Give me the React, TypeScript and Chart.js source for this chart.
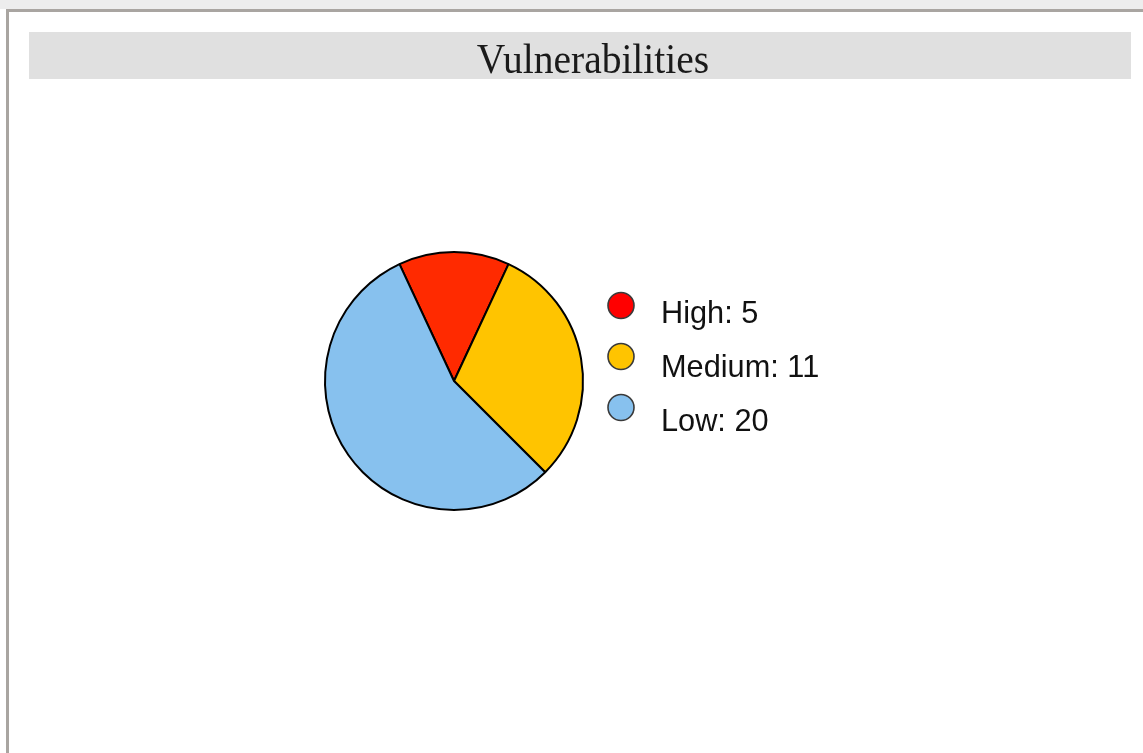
import React, { useEffect, useRef } from "react";
import Chart from "chart.js/auto";

const TITLE = "Vulnerabilities";
const categories = ["High", "Medium", "Low"];
const counts = [5, 11, 20];
const sliceColors = ["#ff2a00", "#ffc400", "#87c1ee"];
const legendColors = ["#ff0000", "#ffc400", "#87c1ee"];

const W = 1143;
const H = 753;

const framePlugin = {
  id: "frame",
  beforeDraw(chart: any) {
    const ctx = chart.ctx as CanvasRenderingContext2D;
    ctx.save();
    ctx.fillStyle = "#ffffff";
    ctx.fillRect(0, 0, W, H);
    ctx.fillStyle = "#ededed";
    ctx.fillRect(0, 0, W, 9);
    ctx.fillStyle = "#a9a5a1";
    ctx.fillRect(6, 9, W - 6, 3);
    ctx.fillRect(6, 9, 3, H - 9);
    ctx.fillStyle = "#e0e0e0";
    ctx.fillRect(29, 32, 1102, 47);
    ctx.fillStyle = "#1a1a1a";
    ctx.font = "42px 'Liberation Serif', serif";
    ctx.textAlign = "center";
    ctx.textBaseline = "alphabetic";
    ctx.translate(593, 73);
    ctx.scale(0.94, 1);
    ctx.fillText(TITLE, 0, 0);
    ctx.restore();
  },
};

const legendPlugin = {
  id: "sideLegend",
  afterDraw(chart: any) {
    const ctx = chart.ctx as CanvasRenderingContext2D;
    const data = chart.data.datasets[0].data as number[];
    const labels = chart.data.labels as string[];
    ctx.save();
    labels.forEach((lab, i) => {
      const cy = 305.5 + i * 51;
      ctx.beginPath();
      ctx.arc(621, cy, 13, 0, Math.PI * 2);
      ctx.fillStyle = legendColors[i];
      ctx.fill();
      ctx.lineWidth = 1.6;
      ctx.strokeStyle = "#3a3a3a";
      ctx.stroke();
      ctx.save();
      ctx.fillStyle = "#111111";
      ctx.font = "32px 'Liberation Sans', Arial, sans-serif";
      ctx.textAlign = "left";
      ctx.textBaseline = "alphabetic";
      ctx.translate(661, 322.7 + i * 54);
      ctx.scale(0.96, 1);
      ctx.fillText(`${lab}: ${data[i]}`, 0, 0);
      ctx.restore();
    });
    ctx.restore();
  },
};

export default function App() {
  const ref = useRef<HTMLCanvasElement | null>(null);
  useEffect(() => {
    if (!ref.current) return;
    const chart = new Chart(ref.current, {
      type: "pie",
      data: {
        labels: categories,
        datasets: [
          {
            data: counts,
            backgroundColor: sliceColors,
            borderColor: "#000000",
            borderWidth: 2,
          },
        ],
      },
      options: {
        responsive: false,
        animation: false,
        rotation: -25,
        radius: 129,
        layout: { padding: { left: 325, right: 560, top: 252, bottom: 243 } },
        plugins: {
          legend: { display: false },
          title: { display: false },
          tooltip: { enabled: false },
        },
      },
      plugins: [framePlugin, legendPlugin],
    });
    return () => chart.destroy();
  }, []);
  return (
    <div style={{ position: "fixed", left: 0, top: 0, width: W, height: H }}>
      <canvas ref={ref} width={W} height={H} style={{ display: "block" }} />
    </div>
  );
}
